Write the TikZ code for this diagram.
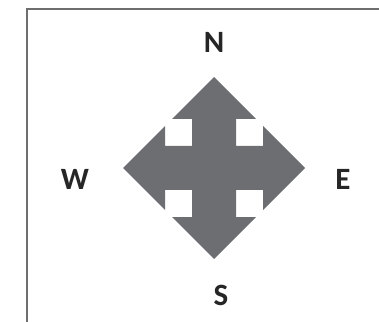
\documentclass[tikz,border=0pt]{standalone}
\usepackage{fontspec}
\setmainfont{Carlito}
\usepackage{xcolor}
\usepackage{tikz}
\usetikzlibrary{positioning}

\definecolor{arrowgray}{RGB}{109,110,113}
\definecolor{framegray}{RGB}{110,110,110}

\begin{document}
\begin{tikzpicture}[x=1pt, y=1pt,
    dirlabel/.style={font=\fontsize{31}{36}\selectfont\bfseries, text=black!85, inner sep=0pt}]
\useasboundingbox (0,0) rectangle (379,321);
\clip (0,0) rectangle (379,321);
% frame
\draw[framegray, line width=1.2pt] (27,-20) -- (27,312) -- (400,312);

% four-way arrow
\begin{scope}[shift={(214,153)}]
\fill[arrowgray] (0,91) -- (42,49) -- (22,49) -- (22,22) -- (49,22) -- (49,42)
   -- (91,0) -- (49,-42) -- (49,-22) -- (22,-22) -- (22,-49) -- (42,-49)
   -- (0,-91) -- (-42,-49) -- (-22,-49) -- (-22,-22) -- (-49,-22) -- (-49,-42)
   -- (-91,0) -- (-49,42) -- (-49,22) -- (-22,22) -- (-22,49) -- (-42,49) -- cycle;
\end{scope}

% compass letters
\node[dirlabel] (north) at (214,279) {N};
\node[dirlabel] (east) at (343,142) {E};
\node[dirlabel] (south) at (221,26) {S};
\node[dirlabel] (west) at (75,142) {W};
\end{tikzpicture}
\end{document}
